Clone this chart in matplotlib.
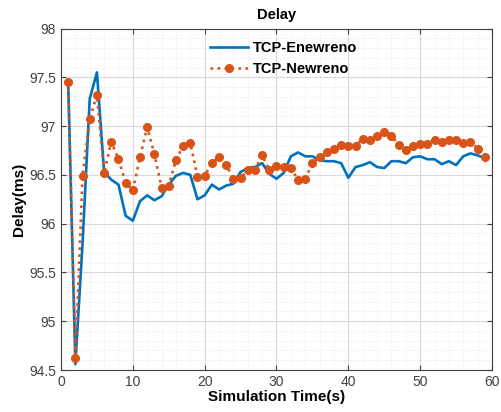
import matplotlib
matplotlib.use('Agg')
import matplotlib.pyplot as plt
import numpy as np
from matplotlib.ticker import MultipleLocator

plt.rcParams['font.family'] = ['Liberation Sans', 'DejaVu Sans']

# 시뮬레이션 시간 (s)
time_s = list(range(1, 60))

# TCP-Enewreno 지연 (ms)
enewreno = [97.45, 94.56, 95.80, 97.28, 97.55, 96.53, 96.45, 96.40, 96.08, 96.03,
            96.23, 96.29, 96.24, 96.28, 96.40, 96.49, 96.52, 96.50, 96.25, 96.29,
            96.40, 96.35, 96.39, 96.41, 96.53, 96.57, 96.58, 96.62, 96.51, 96.46,
            96.52, 96.69, 96.73, 96.69, 96.69, 96.65, 96.64, 96.64, 96.62, 96.47,
            96.58, 96.60, 96.63, 96.58, 96.57, 96.64, 96.64, 96.62, 96.68, 96.69,
            96.66, 96.66, 96.61, 96.64, 96.60, 96.69, 96.72, 96.70, 96.67]

# TCP-Newreno 지연 (ms)
newreno = [97.45, 94.62, 96.49, 97.07, 97.32, 96.52, 96.84, 96.66, 96.42, 96.34,
           96.68, 96.99, 96.71, 96.37, 96.39, 96.65, 96.80, 96.83, 96.48, 96.49,
           96.62, 96.68, 96.60, 96.46, 96.47, 96.55, 96.55, 96.70, 96.55, 96.59,
           96.58, 96.57, 96.45, 96.46, 96.62, 96.68, 96.73, 96.77, 96.81, 96.80,
           96.80, 96.87, 96.86, 96.90, 96.94, 96.90, 96.81, 96.75, 96.80, 96.82,
           96.82, 96.86, 96.84, 96.86, 96.86, 96.83, 96.84, 96.77, 96.68]

fig = plt.figure(figsize=(5.02, 4.12), dpi=100)
ax = fig.add_axes([61 / 502, 1 - 370 / 412, 431 / 502, 341.5 / 412])

ax.plot(time_s, enewreno, color='#0072BD', linewidth=1.9, label='TCP-Enewreno')
ax.plot(time_s, newreno, color='#D95319', linewidth=1.9, linestyle=':',
        marker='o', markersize=5.5, label='TCP-Newreno')

ax.set_xlim(0, 60)
ax.set_ylim(94.5, 98)
ax.xaxis.set_major_locator(MultipleLocator(10))
ax.xaxis.set_minor_locator(MultipleLocator(2))
ax.yaxis.set_major_locator(MultipleLocator(0.5))
ax.yaxis.set_minor_locator(MultipleLocator(0.1))
ax.yaxis.set_major_formatter(matplotlib.ticker.FuncFormatter(lambda v, p: f'{v:g}'))

# 격자
ax.grid(which='major', color='#d9d9d9', linewidth=0.8)
ax.grid(which='minor', color='#e3e3e3', linewidth=0.6, linestyle=':')
ax.set_axisbelow(True)

ax.tick_params(which='both', direction='in', top=True, right=True, colors='#404040',
               labelsize=10)
ax.tick_params(which='minor', length=0)
for s in ax.spines.values():
    s.set_color('#404040')
    s.set_linewidth(0.8)

ax.set_title('Delay', fontsize=10.5, fontweight='bold', pad=7)
ax.set_xlabel('Simulation Time(s)', fontsize=11, fontweight='bold', labelpad=1)
ax.set_ylabel('Delay(ms)', fontsize=11, fontweight='bold', labelpad=2)

ax.legend(loc='upper left', bbox_to_anchor=(0.346, 0.962), frameon=False,
          prop={'weight': 'bold', 'size': 10.5}, handlelength=2.6,
          handletextpad=0.3, borderpad=0, borderaxespad=0, labelspacing=0.45)

fig.savefig('out.png', dpi=100)
